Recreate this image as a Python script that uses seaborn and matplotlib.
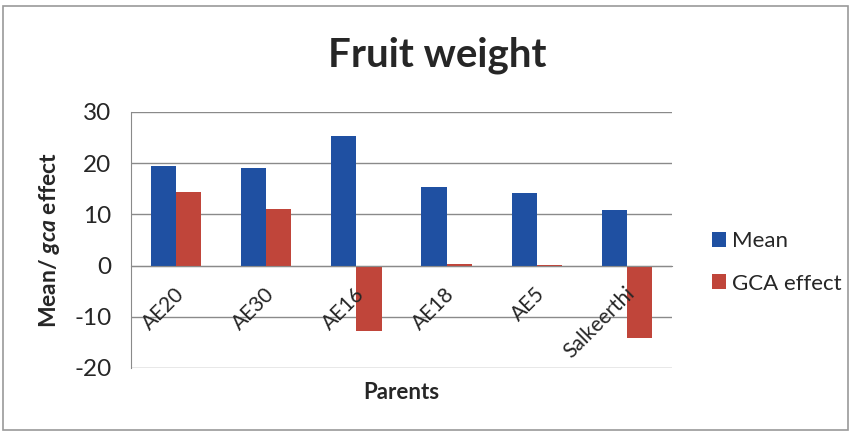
import matplotlib
matplotlib.use("Agg")
import matplotlib.pyplot as plt
import matplotlib.transforms as mtransforms
import seaborn as sns
import pandas as pd
from matplotlib.patches import Rectangle

parents = ["AE20", "AE30", "AE16", "AE18", "AE5", "Salkeerthi"]
mean_vals = [19.4, 19.1, 25.4, 15.3, 14.2, 10.9]
gca_vals = [14.3, 11.0, -12.7, 0.3, 0.1, -14.2]
series = ["Mean", "GCA effect"]
yticks = [-20, -10, 0, 10, 20, 30]

sns.set_style("white")
plt.rcParams["font.family"] = ["Lato", "DejaVu Sans"]
plt.rcParams["mathtext.fontset"] = "custom"
plt.rcParams["mathtext.it"] = "Lato:italic:bold"
plt.rcParams["mathtext.rm"] = "Lato:bold"

df = pd.DataFrame({
    "Parent": parents * 2,
    "Value": mean_vals + gca_vals,
    "Series": [series[0]] * len(parents) + [series[1]] * len(parents),
})

fig = plt.figure(figsize=(8.52, 4.33), dpi=100)
ax = fig.add_axes([131 / 852, 1 - 368 / 433, (672 - 131) / 852, (368 - 112) / 433])

palette = {"Mean": "#1F50A2", "GCA effect": "#C0453A"}
sns.barplot(data=df, x="Parent", y="Value", hue="Series", order=parents,
            hue_order=series, palette=palette, width=0.56, gap=0,
            saturation=1, ax=ax, legend=True, zorder=3, linewidth=0,
            edgecolor="none")

ax.set_ylim(-20, 30)
ax.set_xlim(-0.5, len(parents) - 0.5)
ax.set_yticks(yticks)
ax.set_yticklabels([str(t) for t in yticks], fontsize=17.5)
ax.yaxis.grid(True, color="#8a8a8a", linewidth=1.0, zorder=0)
ax.set_axisbelow(True)

for s in ["top", "right"]:
    ax.spines[s].set_visible(False)
ax.spines["left"].set_color("#8a8a8a")
ax.spines["bottom"].set_color("#8a8a8a")
ax.spines["bottom"].set_position(("data", 0))
ax.spines["bottom"].set_zorder(4)

ax.tick_params(axis="y", length=6, color="#8a8a8a", pad=8, direction="out")
ax.set_xticks(range(len(parents)))
ax.set_xticklabels(parents, rotation=45, ha="right", va="top", fontsize=15)
ax.tick_params(axis="x", which="major", length=0, pad=13)
ax.set_xticks([i - 0.5 for i in range(len(parents) + 1)], minor=True)
ax.tick_params(axis="x", which="minor", length=5, color="#8a8a8a", direction="out")
offset = mtransforms.ScaledTranslation(0.12, 0, fig.dpi_scale_trans)
for lab in ax.get_xticklabels():
    lab.set_transform(lab.get_transform() + offset)
ax.xaxis.set_zorder(5)

ax.set_xlabel("Parents", fontsize=16, fontweight="bold")
ax.xaxis.set_label_coords(0.5, -0.055)
ax.set_ylabel(r"Mean/ $\mathit{gca}$ effect", fontsize=16.5, fontweight="bold")
ax.yaxis.set_label_coords(-0.127, 0.5)

fig.text(437 / 852, 1 - 55 / 433, "Fruit weight", fontsize=29, fontweight="bold",
         ha="center", va="center")

leg = ax.legend(loc="center left", bbox_to_anchor=(1.074, 0.412), frameon=False,
                fontsize=16, handlelength=0.65, handleheight=0.65, handletextpad=0.25,
                labelspacing=1.0, borderpad=0, borderaxespad=0, title=None)

fig.patches.append(Rectangle((3 / 852, 3 / 433), 845 / 852, 424 / 433,
                             transform=fig.transFigure, fill=False,
                             edgecolor="#9a9a9a", linewidth=1.2))

fig.savefig("out.png", dpi=100, facecolor="white")
